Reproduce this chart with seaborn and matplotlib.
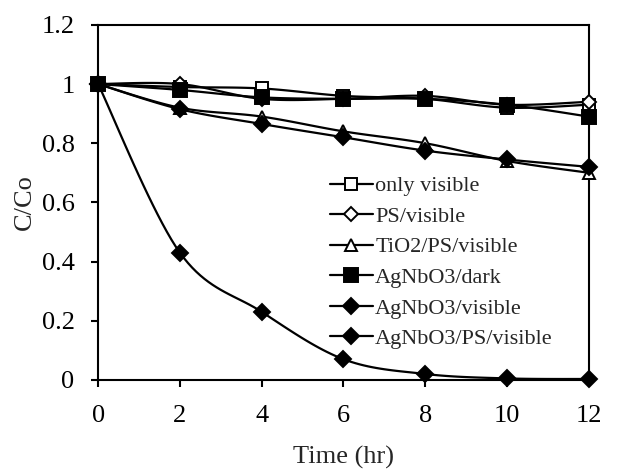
import numpy as np
import pandas as pd
import matplotlib
matplotlib.use("Agg")
import matplotlib.pyplot as plt
import seaborn as sns
from matplotlib.lines import Line2D

time_hr = [0, 2, 4, 6, 8, 10, 12]
only_visible = [1.0, 0.99, 0.985, 0.96, 0.95, 0.92, 0.93]
ps_visible = [1.0, 1.0, 0.95, 0.95, 0.96, 0.93, 0.94]
tio2_ps_visible = [1.0, 0.92, 0.89, 0.84, 0.80, 0.74, 0.70]
agnbo3_dark = [1.0, 0.98, 0.955, 0.95, 0.95, 0.93, 0.89]
agnbo3_visible = [1.0, 0.915, 0.865, 0.82, 0.775, 0.745, 0.72]
agnbo3_ps_visible = [1.0, 0.43, 0.23, 0.07, 0.02, 0.005, 0.003]

labels = ["only visible", "PS/visible", "TiO2/PS/visible", "AgNbO3/dark",
          "AgNbO3/visible", "AgNbO3/PS/visible"]
series = [only_visible, ps_visible, tio2_ps_visible, agnbo3_dark,
          agnbo3_visible, agnbo3_ps_visible]
markers = ["s", "D", "^", "s", "D", "D"]
fills = ["white", "white", "white", "black", "black", "black"]
msizes = [9, 7.5, 9, 10, 8.5, 8.5]


def smooth(x, y, n=20):
    x = np.asarray(x, float)
    y = np.asarray(y, float)
    xs, ys = [], []
    for i in range(len(x) - 1):
        p0 = (x[max(i - 1, 0)], y[max(i - 1, 0)])
        p1 = (x[i], y[i])
        p2 = (x[i + 1], y[i + 1])
        p3 = (x[min(i + 2, len(x) - 1)], y[min(i + 2, len(x) - 1)])
        c1 = (p1[0] + (p2[0] - p0[0]) / 6, p1[1] + (p2[1] - p0[1]) / 6)
        c2 = (p2[0] - (p3[0] - p1[0]) / 6, p2[1] - (p3[1] - p1[1]) / 6)
        t = np.linspace(0, 1, n, endpoint=(i == len(x) - 2))
        b0 = (1 - t) ** 3
        b1 = 3 * (1 - t) ** 2 * t
        b2 = 3 * (1 - t) * t ** 2
        b3 = t ** 3
        xs.append(b0 * p1[0] + b1 * c1[0] + b2 * c2[0] + b3 * p2[0])
        ys.append(b0 * p1[1] + b1 * c1[1] + b2 * c2[1] + b3 * p2[1])
    return np.concatenate(xs), np.concatenate(ys)


sns.set_style("ticks")
plt.rcParams["font.family"] = "serif"
plt.rcParams["font.serif"] = ["Liberation Serif", "Times New Roman", "DejaVu Serif"]

fig = plt.figure(figsize=(6.33, 4.69), dpi=100)
ax = fig.add_axes([0.155, 0.19, 0.775, 0.757])

handles = []
for lab, ys, m, fc, ms in zip(labels, series, markers, fills, msizes):
    sx, sy = smooth(time_hr, ys)
    df_line = pd.DataFrame({"t": sx, "v": sy})
    sns.lineplot(data=df_line, x="t", y="v", ax=ax, color="black", lw=1.6,
                 sort=False, estimator=None, legend=False)
    ax.plot(time_hr, ys, linestyle="none", marker=m, markersize=ms,
            markerfacecolor=fc, markeredgecolor="black", markeredgewidth=1.4,
            zorder=3, clip_on=False)
    handles.append(Line2D([], [], color="black", lw=1.6, marker=m,
                          markersize=ms, markerfacecolor=fc,
                          markeredgecolor="black", markeredgewidth=1.4))

ax.set_xlim(0, 12)
ax.set_ylim(0, 1.2)
ax.set_xticks([0, 2, 4, 6, 8, 10, 12])
ax.set_yticks([0, 0.2, 0.4, 0.6, 0.8, 1.0, 1.2])
ax.set_yticklabels(["0", "0.2", "0.4", "0.6", "0.8", "1", "1.2"])
ax.tick_params(axis="both", direction="out", length=5, width=1.5,
               labelsize=19, colors="black")
ax.tick_params(axis="x", pad=13)
ax.tick_params(axis="y", pad=12)
for s in ax.spines.values():
    s.set_linewidth(1.5)
    s.set_color("black")
ax.set_xlabel("Time (hr)", fontsize=19, labelpad=14)
ax.set_ylabel("C/Co", fontsize=19, labelpad=4)

leg = ax.legend(handles, labels, loc="upper left",
                bbox_to_anchor=(0.454, 0.60), frameon=False, fontsize=16,
                handlelength=1.95, handletextpad=0.1, labelspacing=0.45,
                borderaxespad=0)

fig.savefig("out.png", dpi=100)
